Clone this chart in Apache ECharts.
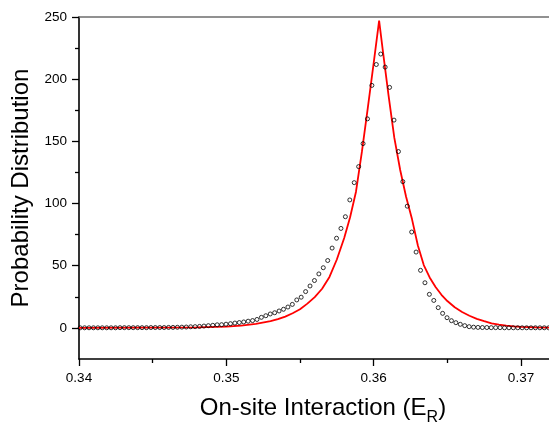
<!DOCTYPE html>
<html>
<head>
<meta charset="utf-8">
<script src="https://cdn.jsdelivr.net/npm/echarts/dist/echarts.min.js"></script>
<style>
html,body{margin:0;padding:0;background:#fff;}
#c{width:549px;height:431px;}
</style>
</head>
<body>
<div id="c"></div>
<script>
// ---- data ----
const pointX = [
0.34008,0.34038,0.34068,0.34098,0.34128,0.34158,0.34188,0.34218,0.34248,0.34278,
0.34308,0.34338,0.34368,0.34398,0.34428,0.34458,0.34488,0.34518,0.34548,0.34578,
0.34608,0.34638,0.34668,0.34698,0.34728,0.34758,0.34788,0.34818,0.34848,0.34878,
0.34908,0.34938,0.34968,0.34998,0.35028,0.35058,0.35088,0.35118,0.35148,0.35178,
0.35208,0.35238,0.35268,0.35298,0.35328,0.35358,0.35388,0.35418,0.35448,0.35478,
0.35508,0.35538,0.35568,0.35598,0.35628,0.35658,0.35688,0.35718,0.35748,0.35778,
0.35808,0.35838,0.35868,0.35898,0.35928,0.35958,0.35988,0.36018,0.36048,0.36078,
0.36108,0.36138,0.36168,0.36198,0.36228,0.36258,0.36288,0.36318,0.36348,0.36378,
0.36408,0.36438,0.36468,0.36498,0.36528,0.36558,0.36588,0.36618,0.36648,0.36678,
0.36708,0.36738,0.36768,0.36798,0.36828,0.36858,0.36888,0.36918,0.36948,0.36978,
0.37008,0.37038,0.37068,0.37098,0.37128,0.37158,0.37188
];
const pointY = [
0.1,0.1,0.1,0.1,0.1,0.1,0.1,0.1,0.1,0.2,
0.2,0.2,0.2,0.2,0.2,0.2,0.3,0.3,0.3,0.3,
0.4,0.4,0.5,0.6,0.7,0.9,1.0,1.2,1.5,1.8,
2.1,2.5,2.6,3.0,3.4,3.9,4.3,4.8,5.4,5.9,
6.8,8.5,9.8,11.2,12.2,13.6,15.0,16.8,18.9,22.5,
24.7,29.2,33.7,38.1,43.4,48.4,54.2,64.2,72.1,80.0,
89.4,102.9,116.8,129.7,148.2,168.1,195.0,211.8,220.2,209.7,
193.4,167.1,141.8,117.6,97.9,77.1,61.0,46.3,36.3,27.0,
22.1,16.3,11.7,8.2,5.8,4.2,2.9,1.8,1.0,0.6,
0.4,0.3,0.3,0.2,0.2,0.2,0.1,0.1,0.1,0.1,
0.1,0.1,0.1,0.1,0.1,0.1,0.1
];
const fitX = [
0.3400,0.3440,0.3480,0.3500,0.3510,0.3520,0.3530,0.3535,0.3540,0.3545,
0.3550,0.3555,0.3560,0.3565,0.3570,0.3575,0.3580,0.3584,0.3588,0.3592,
0.3596,0.3600,0.36037,0.3606,0.3610,0.3614,0.3618,0.3622,0.3626,0.3630,
0.3634,0.3638,0.3642,0.3646,0.3650,0.3655,0.3660,0.3665,0.3670,0.3675,
0.3680,0.3685,0.3690,0.3695,0.3700,0.3710,0.3719
];
const fitY = [
0.1,0.2,0.4,1.1,1.9,3.2,5.4,7.0,9.1,11.8,
15.0,19.5,24.8,31.5,41.0,55.0,72.3,89.0,109.5,141.5,
176.7,213.0,247.0,225.0,187.8,153.0,127.0,105.5,87.5,66.3,
50.5,40.6,32.9,26.6,21.6,16.6,12.8,9.8,7.3,5.4,
3.6,2.6,1.8,1.2,0.8,0.4,0.25
];
const xMajorTicks = [0.34, 0.35, 0.36, 0.37];
const xMinorTicks = [0.345, 0.355, 0.365];
const yMajorTicks = [0, 50, 100, 150, 200, 250];
const yMinorTicks = [25, 75, 125, 175, 225];
const xTitle = 'On-site Interaction (E{sub|R})';
const yTitle = 'Probability Distribution';

// ---- chart ----
const FONT = '"Liberation Sans", Arial, Helvetica, sans-serif';
const X_MIN = 0.34, X_MAX = 0.3719, Y_MIN = -25, Y_MAX = 250;
const chart = echarts.init(document.getElementById('c'), null, {renderer: 'canvas'});
const zip = (a, b) => a.map((v, i) => [v, b[i]]);

chart.setOption({
  animation: false,
  backgroundColor: '#fff',
  textStyle: {fontFamily: FONT},
  grid: {left: 79, top: 17, right: 0, bottom: 66, containLabel: false},
  xAxis: [
    {
      type: 'value', position: 'bottom', min: X_MIN, max: X_MAX,
      axisLine: {show: true, onZero: false, lineStyle: {color: '#000', width: 1.6}},
      axisTick: {show: true, inside: false, length: 7, customValues: xMajorTicks, lineStyle: {color: '#000', width: 1.3}},
      axisLabel: {show: true, customValues: xMajorTicks, margin: 12, color: '#000', fontSize: 13.5, fontFamily: FONT,
                  formatter: v => v.toFixed(2)},
      splitLine: {show: false},
      name: xTitle, nameLocation: 'middle', nameGap: 31,
      nameTextStyle: {color: '#000', fontSize: 24, fontFamily: FONT, padding: [0, 0, 0, 18],
        rich: {sub: {fontSize: 16, fontFamily: FONT, color: '#000', padding: [20, 0, 0, 0]}}}
    },
    {
      type: 'value', position: 'bottom', min: X_MIN, max: X_MAX,
      axisLine: {show: false, onZero: false},
      axisTick: {show: true, length: 4, customValues: xMinorTicks, lineStyle: {color: '#000', width: 1.3}},
      axisLabel: {show: false},
      splitLine: {show: false}
    },
    {
      type: 'value', position: 'top', min: X_MIN, max: X_MAX,
      axisLine: {show: true, onZero: false, lineStyle: {color: '#6e6e6e', width: 1.6}},
      axisTick: {show: false}, axisLabel: {show: false}, splitLine: {show: false}
    }
  ],
  yAxis: [
    {
      type: 'value', position: 'left', min: Y_MIN, max: Y_MAX,
      axisLine: {show: true, onZero: false, lineStyle: {color: '#000', width: 1.6}},
      axisTick: {show: true, length: 7, customValues: yMajorTicks, lineStyle: {color: '#000', width: 1.3}},
      axisLabel: {show: true, customValues: yMajorTicks, margin: 12, color: '#000', fontSize: 13.5, fontFamily: FONT},
      splitLine: {show: false},
      name: yTitle, nameLocation: 'middle', nameGap: 45, nameRotate: 90,
      nameTextStyle: {color: '#000', fontSize: 24, fontFamily: FONT}
    },
    {
      type: 'value', position: 'left', min: Y_MIN, max: Y_MAX,
      axisLine: {show: false, onZero: false},
      axisTick: {show: true, length: 4, customValues: yMinorTicks, lineStyle: {color: '#000', width: 1.3}},
      axisLabel: {show: false},
      splitLine: {show: false}
    }
  ],
  series: [
    {
      type: 'line', xAxisIndex: 0, yAxisIndex: 0,
      data: zip(fitX, fitY),
      showSymbol: false, smooth: false,
      lineStyle: {color: '#ff0000', width: 1.8},
      z: 2
    },
    {
      type: 'scatter', xAxisIndex: 0, yAxisIndex: 0,
      data: zip(pointX, pointY),
      symbol: 'circle', symbolSize: 4,
      itemStyle: {color: 'rgba(255,255,255,0)', borderColor: '#000', borderWidth: 1},
      z: 3
    }
  ]
});
</script>
</body>
</html>
